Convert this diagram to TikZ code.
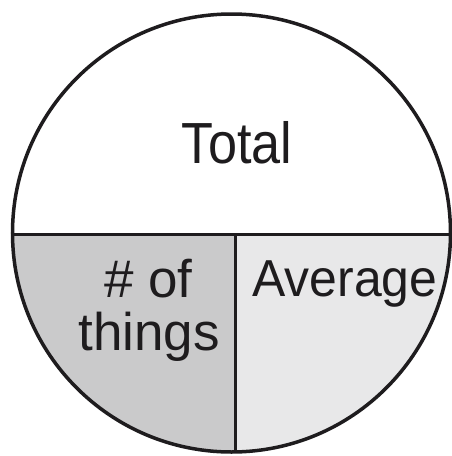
\documentclass[tikz,border=0pt]{standalone}
\usepackage{fontspec}
\setmainfont{Liberation Sans}
\usepackage{graphicx}
\definecolor{inkblack}{RGB}{30,28,30}
\definecolor{leftgray}{RGB}{202,202,203}
\definecolor{rightgray}{RGB}{232,232,233}
\tikzset{
  edge line/.style={draw=inkblack, line width=3pt},
  label text/.style={text=inkblack, inner sep=0pt, anchor=base},
}
\begin{document}
\begin{tikzpicture}[x=1pt,y=-1pt]
\useasboundingbox (0,0) rectangle (452,456);
\coordinate (c) at (231.5,233);
\coordinate (hl) at (0,234.5);
\coordinate (hr) at (460,234.5);
\coordinate (vt) at (235,234.5);
\coordinate (vb) at (235,460);
\begin{scope}
  \clip (c) circle (219);
  \fill[leftgray] (0,234.5) rectangle (235,460);
  \fill[rightgray] (235,234.5) rectangle (460,460);
  \draw[edge line] (hl) -- (hr);
  \draw[edge line] (vt) -- (vb);
\end{scope}
\draw[edge line, line width=3.5pt] (c) circle (219);
\node[label text] (total) at (237,163) {\scalebox{0.9}[1]{\fontsize{58}{60}\selectfont Total}};
\node[label text] (avg) at (345,296) {\scalebox{0.96}[1]{\fontsize{52}{54}\selectfont Average}};
\node[label text] (things) at (148.5,297) {\fontsize{53}{53}\selectfont \# of};
\node[label text] (things2) at (149,350) {\fontsize{53}{53}\selectfont things};
\end{tikzpicture}
\end{document}
